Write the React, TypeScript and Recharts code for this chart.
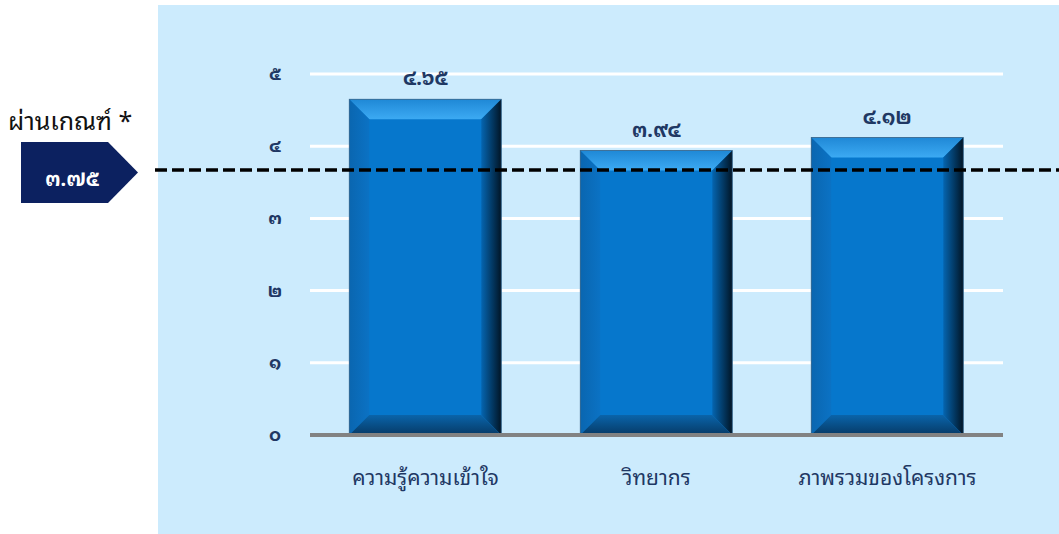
import React from "react";
import {
  BarChart,
  Bar,
  XAxis,
  YAxis,
  CartesianGrid,
  ReferenceLine,
  LabelList,
} from "recharts";

// data
const categories = ["ความรู้ความเข้าใจ", "วิทยากร", "ภาพรวมของโครงการ"];
const scores = [4.65, 3.94, 4.12];
const yTicks = [0, 1, 2, 3, 4, 5];
const passScore = 3.75; // value written on the marker
const passLineAt = 3.67; // where the dashed line is drawn in the picture
const passTitle = "ผ่านเกณฑ์ *";

const thaiDigits = ["๐", "๑", "๒", "๓", "๔", "๕", "๖", "๗", "๘", "๙"];
const toThai = (s: string) => s.replace(/[0-9]/g, (d) => thaiDigits[Number(d)]);

const data = categories.map((name, i) => ({ name, score: scores[i] }));

const FONT =
  "Tahoma, 'Noto Sans Thai Looped', Loma, Garuda, 'TlwgTypo', 'Noto Sans', 'Noto Sans Thai', sans-serif";
const NAVY = "#1f3864";

function BevelBar(props: any) {
  const { x, y, width: w, height: h } = props;
  if (!h || h <= 0) return null;
  const b = 20;
  return (
    <g>
      <rect x={x} y={y} width={w} height={h} fill="#0677cc" />
      <polygon
        points={`${x},${y} ${x + w},${y} ${x + w - b},${y + b} ${x + b},${y + b}`}
        fill="url(#bevTop)"
      />
      <polygon
        points={`${x},${y} ${x + b},${y + b} ${x + b},${y + h - b} ${x},${y + h}`}
        fill="url(#bevLeft)"
      />
      <polygon
        points={`${x + w},${y} ${x + w},${y + h} ${x + w - b},${y + h - b} ${x + w - b},${y + b}`}
        fill="url(#bevRight)"
      />
      <polygon
        points={`${x},${y + h} ${x + w},${y + h} ${x + w - b},${y + h - b} ${x + b},${y + h - b}`}
        fill="url(#bevBottom)"
      />
      <rect x={x} y={y} width={w} height={h} fill="none" stroke="#3d6688" strokeWidth={0.8} />
    </g>
  );
}

const YTick = (props: any) => {
  const { y, payload } = props;
  return (
    <text x={275} y={y} dy={6} textAnchor="middle" fontSize={18} fontWeight={700} fill={NAVY} fontFamily={FONT}>
      {toThai(String(payload.value))}
    </text>
  );
};

const XTick = (props: any) => {
  const { x, y, payload } = props;
  return (
    <text x={x} y={y} dy={42} textAnchor="middle" fontSize={21} fill={NAVY} fontFamily={FONT}>
      {payload.value}
    </text>
  );
};

const ValueLabel = (props: any) => {
  const { x, y, width, value } = props;
  return (
    <text x={x + width / 2} y={y} dy={-14} textAnchor="middle" fontSize={20} fontWeight={700} fill={NAVY} fontFamily={FONT}>
      {toThai(value.toFixed(2))}
    </text>
  );
};

const PassLine = (props: any) => {
  const { y1 } = props;
  return <line x1={155} x2={1059} y1={y1} y2={y1} stroke="#000" strokeWidth={3.5} strokeDasharray="12 5" />;
};

export default function App() {
  return (
    <div
      style={{
        position: "absolute",
        left: 0,
        top: 0,
        width: 1059,
        height: 534,
        background: "#fff",
        fontFamily: FONT,
        overflow: "hidden",
      }}
    >
      <div style={{ position: "absolute", left: 158, top: 5, width: 901, height: 529, background: "#ccebfd" }} />
      <div
        style={{
          position: "absolute",
          left: 8,
          top: 99,
          fontSize: 25,
          color: "#111",
          fontWeight: 400,
          whiteSpace: "nowrap",
        }}
      >
        {passTitle}
      </div>
      <svg style={{ position: "absolute", left: 0, top: 0 }} width={160} height={220}>
        <polygon points="21,142 108,142 138,172.5 108,203 21,203" fill="#0c2160" />
        <text x={72} y={180} dy={6} textAnchor="middle" fontSize={20} fontWeight={700} fill="#fff" fontFamily={FONT}>
          {toThai(passScore.toFixed(2))}
        </text>
      </svg>
      <div style={{ position: "absolute", left: 0, top: 0 }}>
        <BarChart
          width={1059}
          height={534}
          data={data}
          margin={{ top: 74, right: 56, bottom: 39, left: 250 }}
          barCategoryGap="17%"
        >
          <defs>
            <linearGradient id="bevTop" x1="0" y1="0" x2="0" y2="1">
              <stop offset="0%" stopColor="#1f88d6" />
              <stop offset="100%" stopColor="#3caaf3" />
            </linearGradient>
            <linearGradient id="bevLeft" x1="0" y1="0" x2="1" y2="0">
              <stop offset="0%" stopColor="#0a66b0" />
              <stop offset="100%" stopColor="#0b72c4" />
            </linearGradient>
            <linearGradient id="bevRight" x1="0" y1="0" x2="1" y2="0">
              <stop offset="0%" stopColor="#0565b0" />
              <stop offset="100%" stopColor="#011526" />
            </linearGradient>
            <linearGradient id="bevBottom" x1="0" y1="0" x2="0" y2="1">
              <stop offset="0%" stopColor="#0a64aa" />
              <stop offset="100%" stopColor="#063a66" />
            </linearGradient>
          </defs>
          <CartesianGrid vertical={false} stroke="#ffffff" strokeWidth={3} />
          <YAxis
            width={60}
            domain={[0, 5]}
            ticks={yTicks}
            axisLine={false}
            tickLine={false}
            tick={<YTick />}
          />
          <XAxis
            dataKey="name"
            height={60}
            axisLine={{ stroke: "#828282", strokeWidth: 4 }}
            tickLine={false}
            tick={<XTick />}
          />
          <Bar dataKey="score" shape={<BevelBar />} isAnimationActive={false}>
            <LabelList dataKey="score" content={<ValueLabel />} />
          </Bar>
          <ReferenceLine y={passLineAt} ifOverflow="visible" shape={<PassLine />} />
        </BarChart>
      </div>
    </div>
  );
}
